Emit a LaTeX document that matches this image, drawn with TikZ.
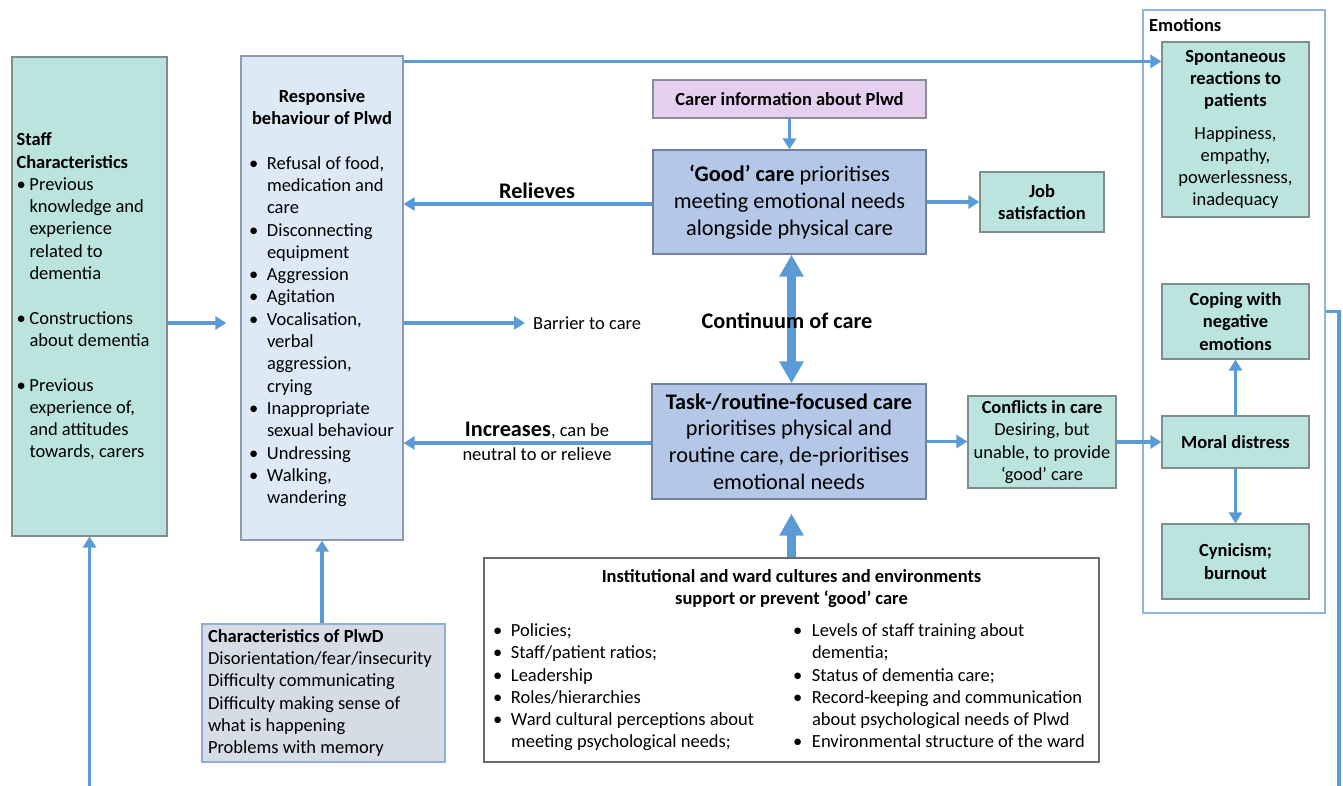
\documentclass[tikz,border=0pt]{standalone}
\usepackage{fontspec}
\setmainfont{Carlito}
\usetikzlibrary{arrows.meta}
\definecolor{arrowblue}{HTML}{5B9BD5}
\definecolor{tealfill}{HTML}{BAE4DD}
\definecolor{tealdraw}{HTML}{7D8E8E}
\definecolor{respfill}{HTML}{DEE9F6}
\definecolor{respdraw}{HTML}{8E9BB0}
\definecolor{carefill}{HTML}{B4C7E7}
\definecolor{caredraw}{HTML}{6F82A3}
\definecolor{carerfill}{HTML}{E4CFEE}
\definecolor{carerdraw}{HTML}{8C8C99}
\definecolor{charfill}{HTML}{D6DCE5}
\definecolor{chardraw}{HTML}{8FAED6}
\definecolor{instdraw}{HTML}{6B6B6B}
\definecolor{emodraw}{HTML}{8EB4E3}
\newcommand{\fs}[2]{\fontsize{#1}{#2}\selectfont}
\newcommand{\bitem}[2]{\par\hangindent=#1\hangafter=1\noindent\makebox[#1][l]{•}{\let\\\newline #2}\par}
\begin{document}
\begin{tikzpicture}[x=1pt,y=-1pt,
  box/.style={inner sep=0pt, line width=1.2pt, text=black},
  tealbox/.style={box, draw=tealdraw, fill=tealfill},
  carebox/.style={box, draw=caredraw, fill=carefill, font=\fs{22.3}{26.7}, align=center},
  arr/.style={draw=arrowblue, line width=3.5pt, -{Triangle[width=13pt,length=11pt]}},
  plainline/.style={draw=arrowblue, line width=3.5pt},
  bigarr/.style={draw=arrowblue, line width=9pt, -{Triangle[width=23pt,length=22pt]}},
  bigdarr/.style={draw=arrowblue, line width=9pt, {Triangle[width=23pt,length=22pt]}-{Triangle[width=23pt,length=22pt]}},
  lbl/.style={inner sep=0pt, text=black}
]
\useasboundingbox (0,0) rectangle (1343,786);
\fill[white] (0,0) rectangle (1343,786);

% Staff characteristics
\node[tealbox, minimum width=155pt, minimum height=479pt, font=\fs{18.5}{22.3}] (staff) at (89.5,296.5)
{\begin{minipage}{146pt}\raggedright
\textbf{Staff}\\\textbf{Characteristics}\par
\bitem{13pt}{Previous\\knowledge and\\experience\\related to\\dementia}
\vspace{22.3pt}
\bitem{13pt}{Constructions\\about dementia}
\vspace{22.3pt}
\bitem{13pt}{Previous\\experience of,\\and attitudes\\towards, carers}
\end{minipage}};

% Responsive behaviour
\node[box, draw=respdraw, fill=respfill, minimum width=162pt, minimum height=484pt, font=\fs{18.5}{22.3}] (resp) at (322,298)
{\begin{minipage}{146pt}
{\centering\bfseries Responsive\\behaviour of Plwd\par}
\vspace{22.3pt}
\raggedright
\bitem{18pt}{Refusal of food,\\medication and\\care}
\bitem{18pt}{Disconnecting\\equipment}
\bitem{18pt}{Aggression}
\bitem{18pt}{Agitation}
\bitem{18pt}{Vocalisation,\\verbal\\aggression,\\crying}
\bitem{18pt}{Inappropriate\\sexual behaviour}
\bitem{18pt}{Undressing}
\bitem{18pt}{Walking,\\wandering}
\end{minipage}};

% Carer information
\node[box, draw=carerdraw, fill=carerfill, minimum width=273pt, minimum height=38pt, font=\fs{18.5}{22}\bfseries] (carer) at (789.5,99) {Carer information about Plwd};

% Good care
\node[carebox, minimum width=273pt, minimum height=104pt] (good) at (789.5,202)
{\textbf{‘Good’ care} prioritises\\meeting emotional needs\\alongside physical care};

% Task care
\node[carebox, minimum width=274pt, minimum height=115pt] (task) at (789,441.5)
{\textbf{Task-/routine-focused care}\\prioritises physical and\\routine care, de-prioritises\\emotional needs};

% Job satisfaction
\node[tealbox, minimum width=124pt, minimum height=60pt, font=\fs{18.5}{22.3}\bfseries, align=center] (job) at (1042,202) {Job\\satisfaction};

% Conflicts in care
\node[tealbox, minimum width=148pt, minimum height=92pt, font=\fs{18.4}{22.3}, align=center] (conf) at (1042,442)
{\textbf{Conflicts in care}\\Desiring, but\\unable, to provide\\‘good’ care};

% Emotions frame
\node[box, draw=emodraw, fill=white, minimum width=182pt, minimum height=603pt] (emo) at (1234,311.5) {};
\node[lbl, anchor=west, font=\fs{18.5}{22}\bfseries] (emol) at (1149,25) {Emotions};

\node[tealbox, minimum width=147pt, minimum height=175pt, font=\fs{18.5}{22.3}] (spont) at (1235.5,129.5)
{\begin{minipage}{140pt}\centering
\textbf{Spontaneous}\\\textbf{reactions to}\\\textbf{patients}\par
\vspace{10pt}
Happiness,\\empathy,\\powerlessness,\\inadequacy
\end{minipage}};

\node[tealbox, minimum width=147pt, minimum height=75pt, font=\fs{18.5}{22.3}\bfseries, align=center] (coping) at (1235.5,321.5) {Coping with\\negative\\emotions};
\node[tealbox, minimum width=147pt, minimum height=52pt, font=\fs{18.5}{22.3}\bfseries, align=center] (moral) at (1235.5,442) {Moral distress};
\node[tealbox, minimum width=147pt, minimum height=75pt, font=\fs{18.5}{22.3}\bfseries, align=center] (cyn) at (1235.5,561.5) {Cynicism;\\burnout};

% Characteristics of PlwD
\node[box, draw=chardraw, fill=charfill, minimum width=243pt, minimum height=138pt, font=\fs{18.5}{22.2}] (charp) at (323.5,693)
{\begin{minipage}{231pt}\raggedright
\textbf{Characteristics of PlwD}\\Disorientation/fear/insecurity\\Difficulty communicating\\Difficulty making sense of\\what is happening\\Problems with memory
\end{minipage}};

% Institutional
\node[box, draw=instdraw, fill=white, minimum width=615pt, minimum height=204pt, font=\fs{18.5}{22.2}] (inst) at (791.5,660)
{\begin{minipage}{597pt}
{\centering\bfseries Institutional and ward cultures and environments\\support or prevent ‘good’ care\par}
\vspace{10pt}
\noindent\begin{minipage}[t]{300pt}\raggedright
\bitem{18pt}{Policies;}
\bitem{18pt}{Staff/patient ratios;}
\bitem{18pt}{Leadership}
\bitem{18pt}{Roles/hierarchies}
\bitem{18pt}{Ward cultural perceptions about\\meeting psychological needs;}
\end{minipage}%
\begin{minipage}[t]{297pt}\raggedright
\bitem{19pt}{Levels of staff training about\\dementia;}
\bitem{19pt}{Status of dementia care;}
\bitem{19pt}{Record-keeping and communication\\about psychological needs of Plwd}
\bitem{19pt}{Environmental structure of the ward}
\end{minipage}
\end{minipage}};

% Labels
\node[lbl, font=\fs{22.3}{26}\bfseries] (relievesl) at (537,191) {Relieves};
\node[lbl, anchor=west, font=\fs{18.5}{22}] (barrier) at (533,323) {Barrier to care};
\node[lbl, font=\fs{18.5}{24}] (incl) at (537,441)
{\begin{minipage}{180pt}\centering
{\fs{22.3}{24}\bfseries Increases}, can be\\neutral to or relieve
\end{minipage}};

% Connectors
\draw[arr] ([yshift=-6pt]resp.north east) coordinate (t0) -- (t0 -| spont.west);
\draw[arr] ([yshift=-2pt]good.west) coordinate (r0) -- (r0 -| resp.east);
\draw[arr] (resp.east |- barrier.west) -- ([xshift=-8pt]barrier.west);
\draw[arr] ([yshift=-1.5pt]task.west) coordinate (i0) -- (i0 -| resp.east);
\draw[arr, shorten >=14pt] ([yshift=-26.5pt]staff.east) coordinate (s0) -- (s0 -| resp.west);
\draw[arr] (charp.north -| resp.south) -- (resp.south);
\draw[arr] (carer.south) -- (good.north);
\draw[arr] (good.east) -- (good.east -| job.west);
\draw[arr] (task.east) -- (task.east -| conf.west);
\draw[arr] (conf.east) -- (conf.east -| moral.west);
\draw[arr] (moral.north) -- (coping.south);
\draw[arr] (moral.south) -- (cyn.north);
\draw[bigdarr] ([xshift=2pt]good.south) -- ([xshift=2.5pt]task.north);
\draw[bigarr] (inst.north) -- ([yshift=-14pt]inst.north |- task.south);
\coordinate (rc) at (1339,790);
\draw[plainline] (emo.east) -| (rc);
\coordinate (lc) at (89.5,790);
\draw[arr] (lc) -- (staff.south);

\node[lbl, font=\fs{22.3}{26}\bfseries] (contl) at (787,321) {Continuum of care};
\end{tikzpicture}
\end{document}
